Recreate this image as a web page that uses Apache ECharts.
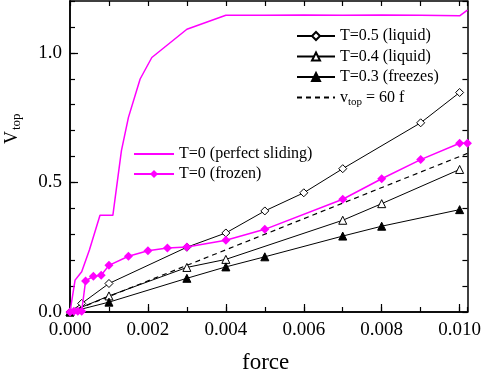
<!DOCTYPE html>
<html>
<head>
<meta charset="utf-8">
<script src="https://cdn.jsdelivr.net/npm/echarts@6/dist/echarts.min.js"></script>
<style>
  html, body { margin: 0; padding: 0; background: #fff; }
  #main { width: 484px; height: 375px; }
</style>
</head>
<body>
<div id="main"></div>
<script>
// data: [force, v_top]
var liquid05 = [[0, 0], [0.0003, 0.033], [0.001, 0.11], [0.003, 0.25], [0.004, 0.305], [0.005, 0.39],
  [0.006, 0.46], [0.007, 0.553], [0.009, 0.73], [0.010, 0.847]];
var liquid04 = [[0, 0], [0.001, 0.062], [0.003, 0.172], [0.004, 0.203], [0.007, 0.354], [0.008, 0.418], [0.010, 0.55]];
var freezes03 = [[0, 0], [0.001, 0.038], [0.003, 0.13], [0.004, 0.174], [0.005, 0.213], [0.007, 0.293], [0.008, 0.331], [0.010, 0.395]];
var fitLine = [[0, 0], [0.0102, 0.612]];
var sliding = [[0, 0], [0.00013, 0.123], [0.0003, 0.155], [0.0005, 0.24], [0.00077, 0.373], [0.0011, 0.373],
  [0.00115, 0.43], [0.00132, 0.623], [0.0015, 0.751], [0.0018, 0.899], [0.0021, 0.982], [0.003, 1.091],
  [0.004, 1.145], [0.005, 1.145], [0.006, 1.146], [0.007, 1.145], [0.008, 1.146], [0.009, 1.145],
  [0.010, 1.143], [0.0102, 1.165]];
var frozen = [[0, 0], [0.0001, 0.003], [0.0002, 0.003], [0.0003, 0.003], [0.0004, 0.12], [0.0006, 0.138],
  [0.0008, 0.142], [0.001, 0.18], [0.0015, 0.215], [0.002, 0.236], [0.0025, 0.247], [0.003, 0.251],
  [0.004, 0.277], [0.005, 0.319], [0.007, 0.435], [0.008, 0.514], [0.009, 0.588], [0.010, 0.651], [0.0102, 0.651]];

var names = ['T=0.5 (liquid)', 'T=0.4 (liquid)', 'T=0.3 (freezes)', 'v_top = 60 f', 'T=0 (perfect sliding)', 'T=0 (frozen)'];

var font = 'Liberation Serif';
var xMax = 0.0102, yMax = 1.2;

var chart = echarts.init(document.getElementById('main'), null, { renderer: 'canvas' });

function xAxisOf(pos, interval, len, labels) {
  return {
    type: 'value', position: pos, min: 0, max: xMax, interval: interval,
    axisLine: { show: true, onZero: false, lineStyle: { color: '#000', width: 1.5 } },
    axisTick: { show: true, inside: true, length: len, lineStyle: { color: '#000', width: 1.2 } },
    axisLabel: { show: labels, color: '#000', fontFamily: font, fontSize: 19, margin: 9, showMaxLabel: false,
      formatter: function (v) { return v.toFixed(3); } },
    splitLine: { show: false }
  };
}
function yAxisOf(pos, interval, len, labels) {
  return {
    type: 'value', position: pos, min: 0, max: yMax, interval: interval,
    axisLine: { show: true, onZero: false, lineStyle: { color: '#000', width: 1.5 } },
    axisTick: { show: true, inside: true, length: len, lineStyle: { color: '#000', width: 1.2 } },
    axisLabel: { show: labels, color: '#000', fontFamily: font, fontSize: 19, margin: 8, showMaxLabel: false,
      formatter: function (v) { return v.toFixed(1); } },
    splitLine: { show: false }
  };
}

function blackSeries(name, data, symbol, fill) {
  return {
    name: name, type: 'line', data: data, symbol: symbol, symbolSize: 8,
    lineStyle: { color: '#000', width: 1 },
    itemStyle: { color: fill, borderColor: '#000', borderWidth: 1 },
    animation: false, z: 3
  };
}

var legendText = {
  fontFamily: font, fontSize: 16, color: '#000', lineHeight: 16,
  rich: {
    a: { fontFamily: font, fontSize: 16, color: '#000' },
    s: { fontFamily: font, fontSize: 11, color: '#000', padding: [10, 0, 0, 0] }
  }
};

var option = {
  backgroundColor: '#fff',
  grid: { left: 70, right: 14, top: 1, bottom: 63 },
  xAxis: [
    xAxisOf('bottom', 0.002, 8, true),
    xAxisOf('bottom', 0.001, 5, false),
    xAxisOf('top', 0.001, 5, false)
  ],
  yAxis: [
    yAxisOf('left', 0.5, 8, true),
    yAxisOf('left', 0.1, 5, false),
    yAxisOf('right', 0.1, 5, false)
  ],
  legend: [{
    data: [names[0], names[1], names[2],
      { name: names[3], itemStyle: { opacity: 0 } }],
    orient: 'vertical', left: 291, top: 23, itemWidth: 38, itemHeight: 10, itemGap: 4.5,
    textStyle: legendText, selectedMode: false,
    formatter: function (n) {
      if (n === names[3]) return '{a|v}{s|top}{a| = 60 f}';
      return n;
    }
  }, {
    data: [{ name: names[4], itemStyle: { opacity: 0 } }, names[5]],
    orient: 'vertical', left: 128, top: 141, itemWidth: 40, itemHeight: 10, itemGap: 4,
    textStyle: legendText, selectedMode: false
  }],
  graphic: [{
    type: 'text', x: 1, y: 144, rotation: Math.PI / 2,
    style: {
      text: '{v|V}{t|top}',
      rich: {
        v: { fontFamily: font, fontSize: 18, fill: '#000' },
        t: { fontFamily: font, fontSize: 13, fill: '#000', padding: [9, 0, 0, 1] }
      }
    }
  }, {
    type: 'text', left: 242, top: 351,
    style: { text: 'force', fontFamily: font, fontSize: 23, fill: '#000' }
  }],
  series: [
    blackSeries(names[0], liquid05, 'diamond', '#fff'),
    blackSeries(names[1], liquid04, 'triangle', '#fff'),
    blackSeries(names[2], freezes03, 'triangle', '#000'),
    {
      name: names[3], type: 'line', data: fitLine, symbol: 'none',
      lineStyle: { color: '#000', width: 1.2, type: [5, 4] },
      itemStyle: { color: '#000' }, animation: false, z: 2
    },
    {
      name: names[4], type: 'line', data: sliding, symbol: 'none',
      lineStyle: { color: '#ff00ff', width: 1.5 },
      itemStyle: { color: '#ff00ff' }, animation: false, z: 4
    },
    {
      name: names[5], type: 'line', data: frozen, symbol: 'diamond', symbolSize: 9,
      lineStyle: { color: '#ff00ff', width: 1.5 },
      itemStyle: { color: '#ff00ff' }, animation: false, z: 4
    }
  ]
};
chart.setOption(option);
</script>
</body>
</html>
